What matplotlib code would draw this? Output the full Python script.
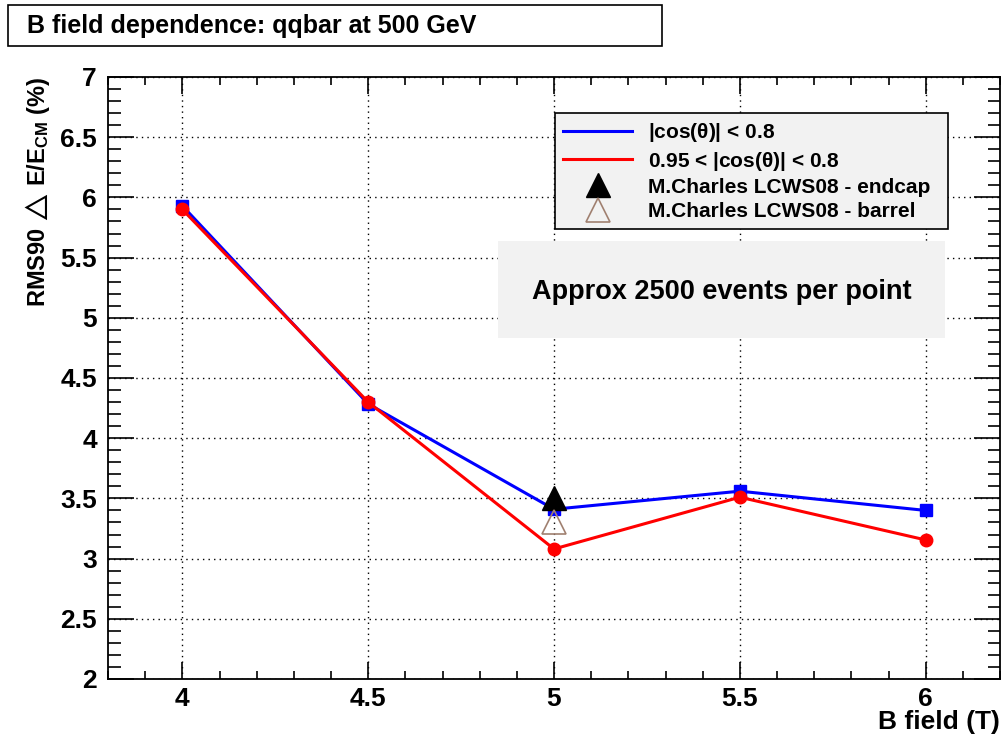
import matplotlib
matplotlib.use("Agg")
import matplotlib.pyplot as plt
from matplotlib.ticker import MultipleLocator, FormatStrFormatter
from matplotlib.lines import Line2D
from matplotlib.patches import Rectangle

# data
bfield = [4.0, 4.5, 5.0, 5.5, 6.0]
rms_barrel = [5.93, 4.285, 3.41, 3.56, 3.40]      # |cos(theta)| < 0.8
rms_endcap = [5.90, 4.30, 3.08, 3.51, 3.155]      # 0.95 < |cos(theta)| < 0.8
charles_x = [5.0]
charles_endcap = [3.50]
charles_barrel = [3.30]

labels = [r"|cos($\theta$)| < 0.8",
          r"0.95 < |cos($\theta$)| < 0.8",
          "M.Charles LCWS08 - endcap",
          "M.Charles LCWS08 - barrel"]

plt.rcParams['font.family'] = ['Liberation Sans', 'DejaVu Sans']
plt.rcParams['font.weight'] = 'bold'
plt.rcParams['mathtext.fontset'] = 'custom'
plt.rcParams['mathtext.rm'] = 'Liberation Sans:bold'
plt.rcParams['mathtext.it'] = 'Liberation Sans:bold'
plt.rcParams['mathtext.bf'] = 'Liberation Sans:bold'

W, H = 1002, 746
fig = plt.figure(figsize=(W / 100, H / 100), dpi=100)
ax = fig.add_axes([108 / W, 67 / H, 892 / W, 602 / H])

ax.plot(bfield, rms_barrel, color='#0000ff', lw=2.2, marker='s', ms=9, zorder=3)
ax.plot(bfield, rms_endcap, color='#ff0000', lw=2.2, marker='o', ms=9, zorder=4)
ax.plot(charles_x, charles_endcap, ls='none', marker='^', ms=17, color='black', zorder=5)
ax.plot(charles_x, charles_barrel, ls='none', marker='^', ms=17, mfc='none',
        mec='#a08070', mew=1.2, zorder=5)

ax.set_xlim(3.8, 6.2)
ax.set_ylim(2, 7)
ax.xaxis.set_major_locator(MultipleLocator(0.5))
ax.xaxis.set_minor_locator(MultipleLocator(0.1))
ax.yaxis.set_major_locator(MultipleLocator(0.5))
ax.yaxis.set_minor_locator(MultipleLocator(0.1))
ax.xaxis.set_major_formatter(FormatStrFormatter('%g'))
ax.yaxis.set_major_formatter(FormatStrFormatter('%g'))
ax.grid(True, which='major', color='black', ls=(0, (1, 3)), lw=1.0)
ax.set_axisbelow(True)

ax.tick_params(which='both', direction='in', top=True, right=True, width=1.2,
               labelsize=19, colors='black')
ax.tick_params(axis='x', which='major', length=12.5, pad=6)
ax.tick_params(axis='x', which='minor', length=6)
ax.tick_params(axis='y', which='major', length=19, pad=8)
ax.tick_params(axis='y', which='minor', length=9)
for lab in ax.get_xticklabels() + ax.get_yticklabels():
    lab.set_fontweight('bold')
for sp in ax.spines.values():
    sp.set_linewidth(1.3)

ax.set_xlabel("B field (T)", fontsize=19, fontweight='bold', loc='right', labelpad=-1)
ax.set_ylabel(r"RMS90$\,\triangle\,$E/E$_{\rm CM}$ (%)", fontsize=17, fontweight='bold',
              loc='top', labelpad=6)

# legend (ROOT style: lines only for curves, markers only for triangles)
handles = [Line2D([], [], color='#0000ff', lw=2.2),
           Line2D([], [], color='#ff0000', lw=2.2),
           Line2D([], [], ls='none', marker='^', ms=17, color='black'),
           Line2D([], [], ls='none', marker='^', ms=17, mfc='none', mec='#a08070', mew=1.2)]
lx0 = (555 - 108) / 892
lx1 = (948 - 108) / 892
ly1 = (679 - 113) / 602
leg = ax.legend(handles, labels, loc='upper left', mode='expand',
                bbox_to_anchor=(lx0, ly1 - 0.3, lx1 - lx0, 0.3),
                prop={'family': 'Liberation Sans', 'weight': 'bold', 'size': 15},
                frameon=True, fancybox=False, edgecolor='black', facecolor='#f2f2f2',
                framealpha=1, borderpad=0.4, labelspacing=0.25, handlelength=3.3,
                handletextpad=0.75, borderaxespad=0)
leg.get_frame().set_linewidth(1.2)
leg.set_zorder(10)

# text box
box = Rectangle(((498 - 108) / 892, (679 - 338) / 602), (945 - 498) / 892, 97 / 602,
                transform=ax.transAxes, facecolor='#f2f2f2', edgecolor='none', zorder=6)
ax.add_patch(box)
ax.text(((498 + 945) / 2 - 108) / 892, (679 - 292) / 602, "Approx 2500 events per point",
        transform=ax.transAxes, ha='center', va='center', fontsize=19.5, fontweight='bold',
        zorder=7)

# title box
fig.patches.append(Rectangle((8 / W, 1 - 46 / H), 654 / W, 41 / H, transform=fig.transFigure,
                             facecolor='white', edgecolor='black', lw=1.2))
fig.text(27 / W, 1 - 26 / H, "B field dependence: qqbar at 500 GeV", ha='left', va='center',
         fontsize=18, fontweight='bold')

fig.savefig("out.png", dpi=100)
